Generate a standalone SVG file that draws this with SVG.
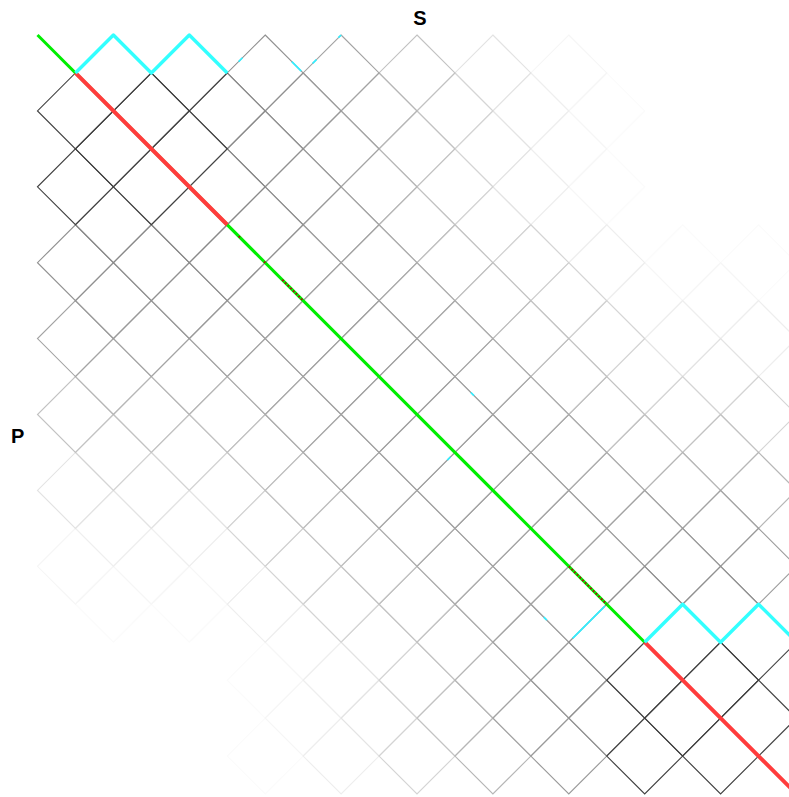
<svg xmlns="http://www.w3.org/2000/svg" width="789" height="797" viewBox="0 0 789 797">
<style>
.grid{fill:none;stroke-width:0.03;stroke-linejoin:miter}
.l025{stroke:#fbfbfb}.l04{stroke:#f6f6f6}.l07{stroke:#eeeeee}.l11{stroke:#e3e3e3}
.l17{stroke:#d4d4d4}.l25{stroke:#c2c2c2}.l30{stroke:#b6b6b6}.l34{stroke:#acacac}
.l38{stroke:#a3a3a3}.l42{stroke:#9a9a9a}.l45{stroke:#919191}.l50{stroke:#898989}
.dk{stroke:#404040}
.green{stroke:#00ee00;stroke-width:0.08;fill:none}
.red{stroke:#ff3c3c;stroke-width:0.105;fill:none}
.cyan{stroke:#33ffff;stroke-width:0.09;fill:none;stroke-linejoin:round}
.speck{stroke:#33eeff;stroke-width:0.045;fill:none}
.dash{stroke:#aa1111;stroke-width:0.05;fill:none;stroke-dasharray:0.05 0.05}
.lab{font-family:"Liberation Sans",Arial,sans-serif;font-weight:bold;font-size:20px;fill:#000}
</style>
<defs><path id="d" d="M0-1L1 0L0 1L-1 0Z"/></defs>
<rect width="789" height="797" fill="#ffffff"/>
<g transform="translate(37.5 35) scale(37.95)">
<g id="cells" class="grid">
<g class="l025"><use href="#d" x="15" y="2"/><use href="#d" x="15" y="4"/><use href="#d" x="17" y="6"/><use href="#d" x="19" y="6"/><use href="#d" x="2" y="15"/><use href="#d" x="4" y="15"/><use href="#d" x="6" y="17"/><use href="#d" x="6" y="19"/></g>
<g class="l04"><use href="#d" x="14" y="1"/><use href="#d" x="14" y="3"/><use href="#d" x="14" y="5"/><use href="#d" x="16" y="7"/><use href="#d" x="18" y="7"/><use href="#d" x="1" y="14"/><use href="#d" x="3" y="14"/><use href="#d" x="5" y="14"/><use href="#d" x="7" y="16"/><use href="#d" x="7" y="18"/></g>
<g class="l07"><use href="#d" x="13" y="2"/><use href="#d" x="13" y="4"/><use href="#d" x="15" y="6"/><use href="#d" x="17" y="8"/><use href="#d" x="19" y="8"/><use href="#d" x="2" y="13"/><use href="#d" x="4" y="13"/><use href="#d" x="6" y="15"/><use href="#d" x="8" y="17"/><use href="#d" x="8" y="19"/></g>
<g class="l11"><use href="#d" x="12" y="1"/><use href="#d" x="12" y="3"/><use href="#d" x="12" y="5"/><use href="#d" x="16" y="9"/><use href="#d" x="18" y="9"/><use href="#d" x="1" y="12"/><use href="#d" x="3" y="12"/><use href="#d" x="5" y="12"/><use href="#d" x="9" y="16"/><use href="#d" x="9" y="18"/></g>
<g class="l17"><use href="#d" x="11" y="2"/><use href="#d" x="11" y="4"/><use href="#d" x="13" y="6"/><use href="#d" x="14" y="7"/><use href="#d" x="15" y="8"/><use href="#d" x="17" y="10"/><use href="#d" x="19" y="10"/><use href="#d" x="2" y="11"/><use href="#d" x="4" y="11"/><use href="#d" x="6" y="13"/><use href="#d" x="7" y="14"/><use href="#d" x="8" y="15"/><use href="#d" x="10" y="17"/><use href="#d" x="10" y="19"/></g>
<g class="l25"><use href="#d" x="10" y="1"/><use href="#d" x="10" y="3"/><use href="#d" x="10" y="5"/><use href="#d" x="11" y="6"/><use href="#d" x="12" y="7"/><use href="#d" x="13" y="8"/><use href="#d" x="14" y="9"/><use href="#d" x="15" y="10"/><use href="#d" x="16" y="11"/><use href="#d" x="18" y="11"/><use href="#d" x="1" y="10"/><use href="#d" x="3" y="10"/><use href="#d" x="5" y="10"/><use href="#d" x="6" y="11"/><use href="#d" x="7" y="12"/><use href="#d" x="8" y="13"/><use href="#d" x="9" y="14"/><use href="#d" x="10" y="15"/><use href="#d" x="11" y="16"/><use href="#d" x="11" y="18"/></g>
<g class="l30"><use href="#d" x="9" y="2"/><use href="#d" x="9" y="4"/><use href="#d" x="17" y="12"/><use href="#d" x="19" y="12"/><use href="#d" x="2" y="9"/><use href="#d" x="4" y="9"/><use href="#d" x="12" y="17"/><use href="#d" x="12" y="19"/></g>
<g class="l34"><use href="#d" x="9" y="6"/><use href="#d" x="10" y="7"/><use href="#d" x="11" y="8"/><use href="#d" x="12" y="9"/><use href="#d" x="13" y="10"/><use href="#d" x="14" y="11"/><use href="#d" x="15" y="12"/><use href="#d" x="6" y="9"/><use href="#d" x="7" y="10"/><use href="#d" x="8" y="11"/><use href="#d" x="9" y="12"/><use href="#d" x="10" y="13"/><use href="#d" x="11" y="14"/><use href="#d" x="12" y="15"/></g>
<g class="l38"><use href="#d" x="8" y="1"/><use href="#d" x="8" y="3"/><use href="#d" x="8" y="5"/><use href="#d" x="7" y="6"/><use href="#d" x="6" y="7"/><use href="#d" x="8" y="7"/><use href="#d" x="7" y="8"/><use href="#d" x="9" y="8"/><use href="#d" x="8" y="9"/><use href="#d" x="10" y="9"/><use href="#d" x="9" y="10"/><use href="#d" x="11" y="10"/><use href="#d" x="10" y="11"/><use href="#d" x="12" y="11"/><use href="#d" x="11" y="12"/><use href="#d" x="13" y="12"/><use href="#d" x="12" y="13"/><use href="#d" x="14" y="13"/><use href="#d" x="13" y="14"/><use href="#d" x="15" y="14"/><use href="#d" x="14" y="15"/><use href="#d" x="16" y="13"/><use href="#d" x="18" y="13"/><use href="#d" x="1" y="8"/><use href="#d" x="3" y="8"/><use href="#d" x="5" y="8"/><use href="#d" x="13" y="16"/><use href="#d" x="13" y="18"/></g>
<g class="l42"><use href="#d" x="7" y="2"/><use href="#d" x="7" y="4"/><use href="#d" x="2" y="7"/><use href="#d" x="4" y="7"/><use href="#d" x="17" y="14"/><use href="#d" x="19" y="14"/><use href="#d" x="14" y="17"/><use href="#d" x="14" y="19"/></g>
<g class="l45"><use href="#d" x="6" y="1"/><use href="#d" x="6" y="3"/><use href="#d" x="6" y="5"/><use href="#d" x="1" y="6"/><use href="#d" x="3" y="6"/><use href="#d" x="5" y="6"/><use href="#d" x="16" y="15"/><use href="#d" x="18" y="15"/><use href="#d" x="15" y="16"/><use href="#d" x="15" y="18"/></g>
<g class="l50"><use href="#d" x="5" y="2"/><use href="#d" x="5" y="4"/><use href="#d" x="2" y="5"/><use href="#d" x="4" y="5"/></g>
<g class="dk"><use href="#d" x="1" y="2"/><use href="#d" x="1" y="4"/><use href="#d" x="2" y="1"/><use href="#d" x="2" y="3"/><use href="#d" x="3" y="2"/><use href="#d" x="3" y="4"/><use href="#d" x="4" y="1"/><use href="#d" x="4" y="3"/><use href="#d" x="16" y="17"/><use href="#d" x="16" y="19"/><use href="#d" x="17" y="16"/><use href="#d" x="17" y="18"/><use href="#d" x="18" y="17"/><use href="#d" x="18" y="19"/><use href="#d" x="19" y="16"/><use href="#d" x="19" y="18"/></g>
</g>
<g id="connectors">
<path class="green" d="M0 0L16 16"/>
<path class="red" d="M1 1L5 5M16 16L20 20"/>
<path class="cyan" d="M1 1L2 0L3 1L4 0L5 1M16 16L17 15L18 16L19 15L20 16"/>
<path class="dash" d="M6.45 6.45L7 7M14 14L15 15M5.3 5.3L5.36 5.36M5.97 5.97L6.03 6.03"/>
<path class="speck" d="M5.3 0.7L5.4 0.6M6.7 0.7L6.95 0.95M7.25 0.75L7.35 0.65M7.93 0.07L8 0M11.42 9.42L11.5 9.5M10.8 11.2L10.88 11.12M13.34 15.34L13.42 15.42M14.1 15.9L14.95 15.05"/>
</g>
</g>
<text class="lab" x="420" y="25" text-anchor="middle">S</text>
<text class="lab" x="11" y="443">P</text>
</svg>
